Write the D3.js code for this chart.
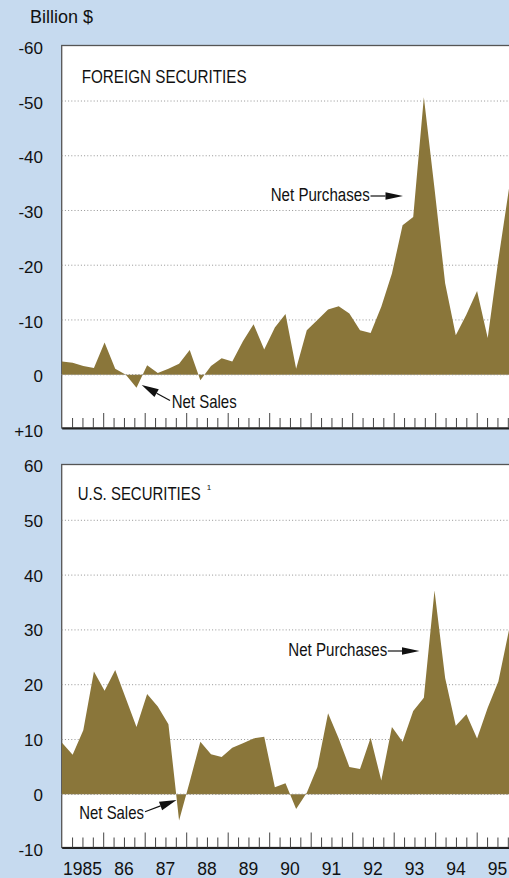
<!DOCTYPE html>
<html>
<head>
<meta charset="utf-8">
<script src="https://cdn.jsdelivr.net/npm/d3@7"></script>
<style>
  body { margin: 0; background: #c6daef; }
  svg { display: block; font-family: "Liberation Sans", Arial, Helvetica, sans-serif; }
</style>
</head>
<body>
<svg id="svg" width="509" height="878"></svg>
<script>
// quarterly net purchases, billion $, 1985Q1 - 1995Q3
var years = [1985, 1986, 1987, 1988, 1989, 1990, 1991, 1992, 1993, 1994, 1995];
var yearLabels = ["1985", "86", "87", "88", "89", "90", "91", "92", "93", "94", "95"];

// foreign securities (axis shows purchases as negative numbers)
var foreign = [-2.4, -2.2, -1.6, -1.2, -5.9, -1.1, 0, 2.4, -1.7, -0.3,
               -1.1, -2.0, -4.5, 1.0, -1.6, -3.0, -2.4, -6.1, -9.2, -4.6,
               -8.6, -11.1, -1.1, -8.1, -10.0, -11.9, -12.5, -11.2, -8.1, -7.6,
               -12.4, -18.5, -27.3, -28.8, -50.7, -34.0, -16.7, -7.2, -11.0, -15.3,
               -6.7, -21.0, -34.0];

// U.S. securities
var us = [9.4, 7.2, 11.7, 22.4, 18.9, 22.7, 17.5, 12.3, 18.3, 16.0,
          12.8, -4.8, 2.3, 9.6, 7.3, 6.8, 8.5, 9.3, 10.2, 10.5,
          1.3, 2.0, -2.7, 0.3, 5.0, 14.8, 10.2, 5.0, 4.6, 10.3,
          2.5, 12.3, 9.6, 15.2, 17.6, 37.2, 21.2, 12.5, 14.6, 10.2,
          15.8, 20.6, 30.0];

var foreignTicks = [-60, -50, -40, -30, -20, -10, 0, 10];
var foreignTickLabels = ["-60", "-50", "-40", "-30", "-20", "-10", "0", "+10"];
var usTicks = [60, 50, 40, 30, 20, 10, 0, -10];
var usTickLabels = ["60", "50", "40", "30", "20", "10", "0", "-10"];

var quarters = [];
years.forEach(function(y) {
  ["Q1", "Q2", "Q3", "Q4"].forEach(function(q) { quarters.push(y + q); });
});
quarters = quarters.slice(0, foreign.length);

var svg = d3.select("#svg");
var W = +svg.attr("width");
var left = 61.7;
var fill = "#8a763a";

svg.append("rect").attr("width", W).attr("height", 878).attr("fill", "#c6daef");

svg.append("text")
  .attr("x", 30).attr("y", 22.7)
  .attr("font-size", 18).attr("fill", "#111")
  .text("Billion $");

// data positions and year ticks
var x = d3.scalePoint().domain(quarters).range([62, 509]);
var xYear = d3.scaleLinear().domain([1985, 1996]).range([left, left + 11 * 41.5]);
var quarterTicks = d3.range(1985, 1996.001, 0.25);

var drawArrow = function(g, x1, y1, x2, y2, len, hw) {
  var dx = x2 - x1, dy = y2 - y1, d = Math.sqrt(dx * dx + dy * dy);
  var ux = dx / d, uy = dy / d;
  var bx = x2 - ux * len, by = y2 - uy * len;
  g.append("line").attr("x1", x1).attr("y1", y1).attr("x2", bx).attr("y2", by)
    .attr("stroke", "#111").attr("stroke-width", 1.2);
  g.append("path")
    .attr("d", "M" + x2 + "," + y2 + "L" + (bx - uy * hw) + "," + (by + ux * hw) +
               "L" + (bx + uy * hw) + "," + (by - ux * hw) + "Z")
    .attr("fill", "#111");
};

// condensed text: squeeze horizontally to a measured width
var narrowText = function(g, str, x0, y0, size, width) {
  var t = g.append("text")
    .attr("font-size", size).attr("fill", "#111").text(str);
  var natural = t.node().getComputedTextLength();
  t.attr("transform", "translate(" + x0 + "," + y0 + ") scale(" + (width / natural) + ",1)");
  return t;
};

var panel = function(cfg) {
  var g = svg.append("g");
  var y = d3.scaleLinear().domain(cfg.domain).range(cfg.range);

  g.append("rect")
    .attr("x", left).attr("y", cfg.top)
    .attr("width", W + 20 - left).attr("height", cfg.axisY - cfg.top)
    .attr("fill", "#fff").attr("stroke", "#555").attr("stroke-width", 1.3);

  // dotted grid
  g.selectAll(".grid").data(cfg.ticks.slice(1, -1)).enter().append("line")
    .attr("x1", left).attr("x2", W)
    .attr("y1", function(d) { return y(d); })
    .attr("y2", function(d) { return y(d); })
    .attr("stroke", "#888").attr("stroke-width", 0.9)
    .attr("stroke-dasharray", "1,2.2");

  var area = d3.area()
    .x(function(d, i) { return x(quarters[i]); })
    .y0(y(0))
    .y1(function(d) { return y(d); });
  g.append("path").datum(cfg.values).attr("d", area).attr("fill", fill);

  // zero line on top
  g.append("line")
    .attr("x1", left).attr("x2", W).attr("y1", y(0)).attr("y2", y(0))
    .attr("stroke", "#999").attr("stroke-width", 0.9)
    .attr("stroke-dasharray", "1,2.2");

  // quarter ticks pointing up
  var axis = d3.axisTop(xYear).tickValues(quarterTicks).tickSizeInner(10)
    .tickSizeOuter(0).tickFormat("");
  var ax = g.append("g").attr("transform", "translate(0," + cfg.axisY + ")").call(axis);
  ax.select(".domain").attr("stroke", "#222").attr("stroke-width", 1.8);
  ax.selectAll(".tick line")
    .attr("stroke", "#444")
    .attr("y2", function(d) { return Math.abs(d - Math.round(d)) < 1e-6 ? -15 : -10; });
  ax.selectAll(".tick").filter(function(d) { return d === 1985; }).remove();

  // y labels
  var yAxis = d3.axisLeft(y).tickValues(cfg.ticks).tickSize(0).tickPadding(left - 43)
    .tickFormat(function(d, i) { return cfg.tickLabels[i]; });
  var ya = g.append("g").attr("transform", "translate(" + left + ",0)").call(yAxis);
  ya.select(".domain").remove();
  ya.selectAll("text").attr("font-size", 17)
    .attr("font-family", "Liberation Sans, Arial, sans-serif")
    .attr("fill", "#111").attr("dy", cfg.labelDy);

  // title
  narrowText(g, cfg.title, cfg.titleX, cfg.titleY, 17.5, cfg.titleLen);
  if (cfg.note) {
    g.append("text").attr("x", cfg.titleX + cfg.titleLen + 6).attr("y", cfg.titleY - 10)
      .attr("font-size", 8).attr("fill", "#111").text(cfg.note);
  }

  cfg.labels.forEach(function(a) {
    narrowText(g, a.text, a.x, a.y, 18, a.len);
    drawArrow(g, a.ax1, a.ay1, a.ax2, a.ay2, a.hl, a.hw);
  });
  return g;
};

panel({
  domain: [10, -60], range: [429.4, 46.3], top: 45.5, axisY: 428,
  values: foreign, ticks: foreignTicks, tickLabels: foreignTickLabels, labelDy: "0.42em",
  title: "FOREIGN SECURITIES", titleX: 81.7, titleY: 83.3, titleLen: 165,
  labels: [
    { text: "Net Purchases", x: 270.7, y: 200.7, len: 99,
      ax1: 370.5, ay1: 196, ax2: 403, ay2: 196, hl: 17.5, hw: 3.8 },
    { text: "Net Sales", x: 171.7, y: 408.3, len: 65,
      ax1: 170, ay1: 400.5, ax2: 141.7, ay2: 385, hl: 17, hw: 4.5 }
  ]
});

panel({
  domain: [-10, 60], range: [849.1, 465.5], top: 464.5, axisY: 847.5,
  values: us, ticks: usTicks, tickLabels: usTickLabels, labelDy: "0.35em",
  title: "U.S. SECURITIES", titleX: 77.7, titleY: 500, titleLen: 123, note: "1",
  labels: [
    { text: "Net Purchases", x: 288.3, y: 656, len: 99,
      ax1: 387.8, ay1: 651, ax2: 419.5, ay2: 651, hl: 17.5, hw: 3.8 },
    { text: "Net Sales", x: 79.3, y: 819.3, len: 64.7,
      ax1: 145, ay1: 811.7, ax2: 176.5, ay2: 800, hl: 17, hw: 4.5 }
  ]
});

// year labels centred in each year
svg.append("g").selectAll("text").data(years).enter().append("text")
  .attr("x", function(d) { return xYear(d + 0.5); })
  .attr("y", 874.5)
  .attr("text-anchor", "middle")
  .attr("font-size", 17.5).attr("fill", "#111")
  .text(function(d, i) { return yearLabels[i]; });
</script>
</body>
</html>
